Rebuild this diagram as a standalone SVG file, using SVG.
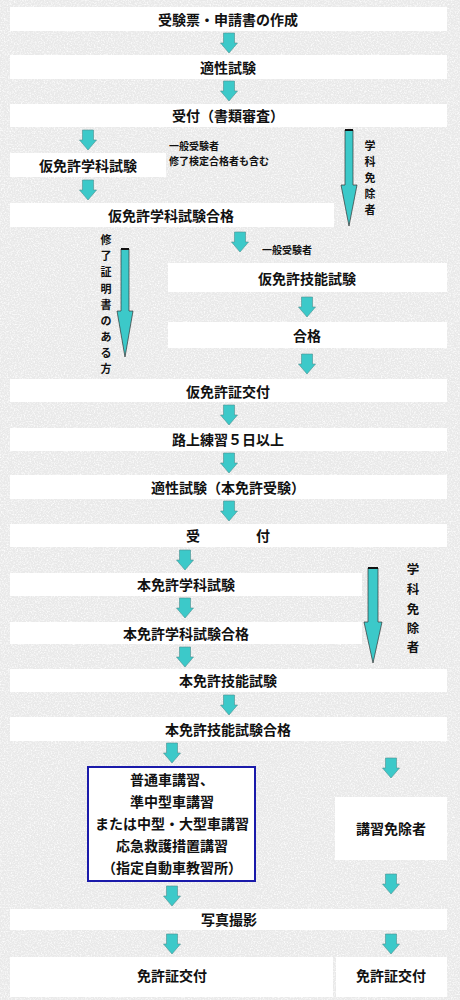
<svg xmlns="http://www.w3.org/2000/svg" xmlns:xlink="http://www.w3.org/1999/xlink" width="460" height="1000" viewBox="0 0 460 1000">
<defs>
<style>
.bx{fill:#ffffff}
.t{font-family:"Noto Sans CJK JP","Noto Sans CJK SC",sans-serif;font-weight:bold;font-size:14px;fill:#111;text-anchor:middle;dominant-baseline:central}
.s{font-family:"Noto Sans CJK JP","Noto Sans CJK SC",sans-serif;font-weight:bold;font-size:10px;fill:#111;dominant-baseline:central}
.v{font-family:"Noto Sans CJK JP","Noto Sans CJK SC",sans-serif;font-weight:bold;font-size:11px;fill:#111;text-anchor:middle;dominant-baseline:central}
.ar{fill:#3cc9c9;stroke:#4a8f8f;stroke-width:0.6}
.big{fill:#3cc9c9;stroke:#333;stroke-width:0.7}
.cap{stroke:#111;stroke-width:2}
</style>
<path id="arr" d="M-5.5,0 H5.5 V10 H8.5 L0,20 L-8.5,10 H-5.5 Z"/>
<filter id="noise" x="0" y="0" width="100%" height="100%">
<feTurbulence type="fractalNoise" baseFrequency="0.7" numOctaves="3" seed="7"/>
<feColorMatrix type="matrix" values="0 0 0 0 1  0 0 0 0 1  0 0 0 0 1  2.2 0 0 0 -0.95"/>
</filter>
</defs>
<rect x="0" y="0" width="460" height="1000" fill="#e9e9e9"/>
<rect x="0" y="0" width="460" height="1000" filter="url(#noise)"/>

<g id="n1"><rect class="bx" x="10" y="7" width="437" height="24"/><text class="t" x="228" y="19">受験票・申請書の作成</text></g>
<g id="n2"><rect class="bx" x="10" y="55" width="437" height="24"/><text class="t" x="228" y="67">適性試験</text></g>
<g id="n3"><rect class="bx" x="10" y="104" width="437" height="23"/><text class="t" x="228" y="115">受付（書類審査）</text></g>
<g id="n4"><rect class="bx" x="10" y="153" width="156" height="24"/><text class="t" x="88" y="165">仮免許学科試験</text></g>
<g id="n4note"><text class="s" x="169" y="145">一般受験者</text><text class="s" x="169" y="160">修了検定合格者も含む</text></g>
<g id="n5"><rect class="bx" x="10" y="203" width="324" height="24"/><text class="t" x="171" y="215">仮免許学科試験合格</text></g>
<g id="n5note"><text class="s" x="262" y="249">一般受験者</text></g>
<g id="n6"><rect class="bx" x="168" y="263" width="279" height="29"/><text class="t" x="307" y="278">仮免許技能試験</text></g>
<g id="n7"><rect class="bx" x="168" y="322" width="279" height="26"/><text class="t" x="307" y="335">合格</text></g>
<g id="n8"><rect class="bx" x="10" y="379" width="437" height="23"/><text class="t" x="228" y="391">仮免許証交付</text></g>
<g id="n9"><rect class="bx" x="10" y="428" width="437" height="23"/><text class="t" x="228" y="439">路上練習５日以上</text></g>
<g id="n10"><rect class="bx" x="10" y="475" width="437" height="24"/><text class="t" x="228" y="487">適性試験（本免許受験）</text></g>
<g id="n11"><rect class="bx" x="10" y="524" width="437" height="23"/><text class="t" x="228" y="535" style="white-space:pre">受　　　　付</text></g>
<g id="n12"><rect class="bx" x="10" y="573" width="352" height="23"/><text class="t" x="186" y="584">本免許学科試験</text></g>
<g id="n13"><rect class="bx" x="10" y="622" width="352" height="22"/><text class="t" x="186" y="633">本免許学科試験合格</text></g>
<g id="n14"><rect class="bx" x="10" y="669" width="437" height="23"/><text class="t" x="228" y="680">本免許技能試験</text></g>
<g id="n15"><rect class="bx" x="10" y="717" width="437" height="24"/><text class="t" x="228" y="729">本免許技能試験合格</text></g>
<g id="n16"><rect x="88" y="767" width="167" height="114" fill="#fff" stroke="#1a1aaa" stroke-width="2"/>
<text class="t" x="172" y="779">普通車講習、</text>
<text class="t" x="172" y="801">準中型車講習</text>
<text class="t" x="172" y="823">または中型・大型車講習</text>
<text class="t" x="172" y="845">応急救護措置講習</text>
<text class="t" x="172" y="867">（指定自動車教習所）</text></g>
<g id="n17"><rect class="bx" x="335" y="797" width="112" height="63"/><text class="t" x="391" y="828">講習免除者</text></g>
<g id="n18"><rect class="bx" x="10" y="909" width="437" height="21"/><text class="t" x="229" y="919">写真撮影</text></g>
<g id="n19"><rect class="bx" x="10" y="957" width="323" height="40"/><text class="t" x="172" y="975">免許証交付</text></g>
<g id="n20"><rect class="bx" x="336" y="957" width="111" height="40"/><text class="t" x="391" y="975">免許証交付</text></g>

<g id="connectors">
<use href="#arr" class="ar" transform="translate(229,33)"/>
<use href="#arr" class="ar" transform="translate(229,81)"/>
<use href="#arr" class="ar" transform="translate(88,130)"/>
<use href="#arr" class="ar" transform="translate(88,180)"/>
<use href="#arr" class="ar" transform="translate(240,232)"/>
<use href="#arr" class="ar" transform="translate(307,297)"/>
<use href="#arr" class="ar" transform="translate(307,354)"/>
<use href="#arr" class="ar" transform="translate(229,405)"/>
<use href="#arr" class="ar" transform="translate(229,453)"/>
<use href="#arr" class="ar" transform="translate(229,501)"/>
<use href="#arr" class="ar" transform="translate(185,550)"/>
<use href="#arr" class="ar" transform="translate(185,598)"/>
<use href="#arr" class="ar" transform="translate(185,647)"/>
<use href="#arr" class="ar" transform="translate(229,695)"/>
<use href="#arr" class="ar" transform="translate(172,743)"/>
<use href="#arr" class="ar" transform="translate(391,758)"/>
<use href="#arr" class="ar" transform="translate(172,886)"/>
<use href="#arr" class="ar" transform="translate(391,874)"/>
<use href="#arr" class="ar" transform="translate(172,934)"/>
<use href="#arr" class="ar" transform="translate(391,934)"/>
<g id="skip1">
<polygon class="big" points="345,130 353,130 353,185 357,185 349,226 341,185 345,185"/>
<line class="cap" x1="345" y1="130" x2="353" y2="130"/>
</g>
<g id="skip2">
<polygon class="big" points="121,249 129,249 129,311 133,311 125,357 117,311 121,311"/>
<line class="cap" x1="121" y1="249" x2="129" y2="249"/>
</g>
<g id="skip3">
<polygon class="big" points="368,568 378,568 378,622 382,622 373,663 364,622 368,622"/>
<line class="cap" x1="368" y1="568" x2="378" y2="568"/>
</g>
</g>
<g id="labels">
<text class="v" x="370" y="145">学</text><text class="v" x="370" y="161">科</text><text class="v" x="370" y="177">免</text><text class="v" x="370" y="193">除</text><text class="v" x="370" y="209">者</text>
<text class="v" x="106" y="239">修</text><text class="v" x="106" y="255">了</text><text class="v" x="106" y="271">証</text><text class="v" x="106" y="288">明</text><text class="v" x="106" y="304">書</text><text class="v" x="106" y="320">の</text><text class="v" x="106" y="336">あ</text><text class="v" x="106" y="352">る</text><text class="v" x="106" y="368">方</text>
<text class="v" x="413" y="568" style="font-size:12.5px">学</text><text class="v" x="413" y="588" style="font-size:12.5px">科</text><text class="v" x="413" y="608" style="font-size:12.5px">免</text><text class="v" x="413" y="627" style="font-size:12.5px">除</text><text class="v" x="413" y="646" style="font-size:12.5px">者</text>
</g>
</svg>
